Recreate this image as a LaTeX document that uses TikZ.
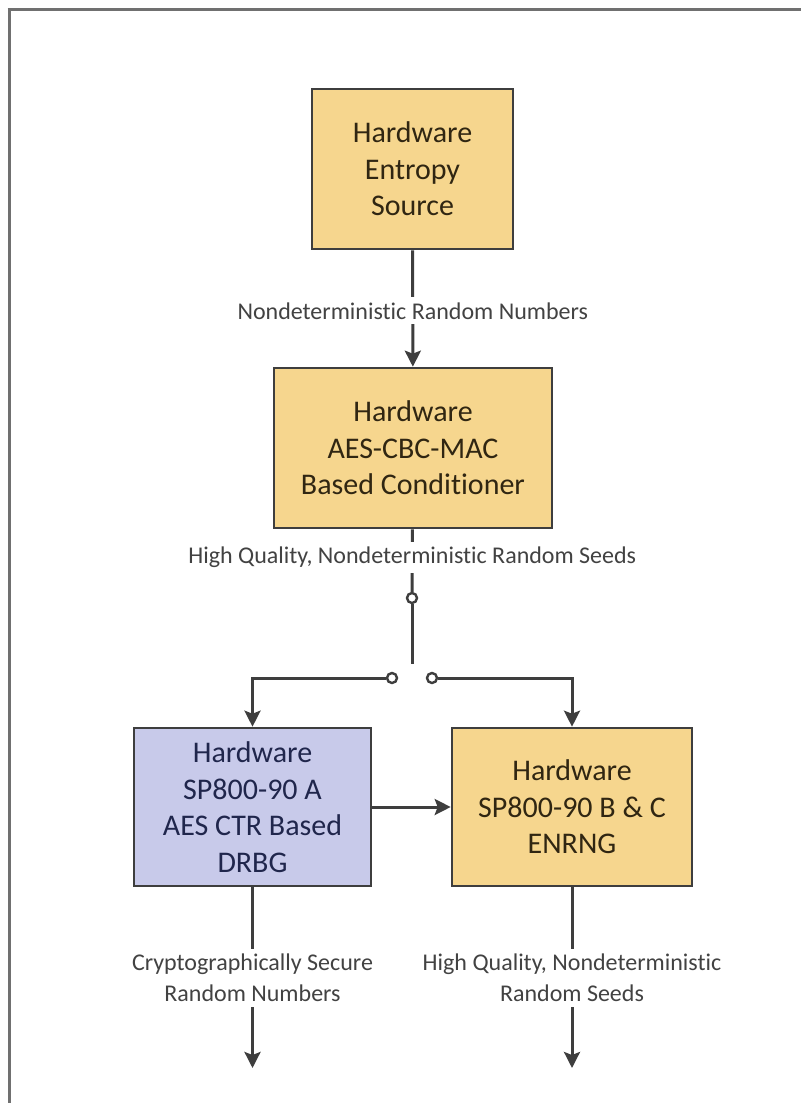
\documentclass[tikz,border=0pt]{standalone}
\usepackage{fontspec}
\setmainfont{Carlito}[Ligatures=NoCommon]
\usetikzlibrary{positioning, arrows.meta}
\definecolor{hwGold}{RGB}{246,214,142}
\definecolor{hwLav}{RGB}{200,202,234}
\definecolor{edgeGray}{RGB}{62,62,62}
\definecolor{goldText}{RGB}{48,38,18}
\definecolor{lavText}{RGB}{32,38,76}
\definecolor{lblGray}{RGB}{66,66,66}
\definecolor{frameGray}{RGB}{112,112,112}

\begin{document}
\begin{tikzpicture}[
    x=1pt, y=-1pt,
    >={Stealth[length=16pt, width=16pt, inset=3pt]},
    font=\fontsize{30}{36.5}\selectfont,
    hwbox/.style={rectangle, draw=edgeGray, fill=hwGold, text=goldText, line width=2.6pt, align=center, inner sep=0pt},
    drbgbox/.style={hwbox, fill=hwLav, text=lavText},
    lbl/.style={fill=white, text=lblGray, align=center, inner sep=5pt, font=\fontsize{24}{31}\selectfont},
    flow/.style={->, draw=edgeGray, line width=3pt},
    wire/.style={draw=edgeGray, line width=3pt},
    contact/.style={circle, draw=edgeGray, fill=white, line width=2.4pt, inner sep=0pt, minimum size=10pt}
]
    \useasboundingbox (0,0) rectangle (801,1103);
    \draw[frameGray, line width=3pt] (7.5,9) -- (801,9);
    \draw[frameGray, line width=3pt] (9,9) -- (9,1103);

    \node[hwbox, minimum width=201pt, minimum height=160pt] (entropy) at (412.5,169) {Hardware \\ Entropy \\ Source};
    \node[hwbox, minimum width=278pt, minimum height=160pt] (cond) at (413,448) {Hardware \\ AES-CBC-MAC \\ Based Conditioner};
    \node[drbgbox, minimum width=237pt, minimum height=158pt] (drbg) at (252.5,807) {Hardware \\ SP800-90 A \\ AES CTR Based \\ DRBG};
    \node[hwbox, minimum width=240pt, minimum height=158pt] (enrng) at (572,807) {Hardware \\ SP800-90 B \& C \\ ENRNG};

    % switch between the conditioner and the two generators
    \node[contact] (sw_in) at (412,598) {};
    \coordinate (blade) at (412,664);
    \node[contact] (sw_a) at (392,678) {};
    \node[contact] (sw_b) at (432,678) {};
    \coordinate (out_a) at (drbg.south |- 0,1068);
    \coordinate (out_b) at (enrng.south |- 0,1068);

    \draw[flow] (entropy) -- (cond) node[lbl, pos=0.52] {Nondeterministic Random Numbers};
    \draw[wire] (cond) -- (sw_in) node[lbl, pos=0.45] {High Quality, Nondeterministic Random Seeds};
    \draw[wire] (sw_in) -- (blade);
    \draw[flow] (sw_a) -| (drbg.north);
    \draw[flow] (sw_b) -| (enrng.north);
    \draw[flow] (drbg) -- (enrng);

    \draw[flow] (drbg) -- (out_a) node[lbl, pos=0.5] {Cryptographically Secure \\ Random Numbers};
    \draw[flow] (enrng) -- (out_b) node[lbl, pos=0.5] {High Quality, Nondeterministic \\ Random Seeds};
\end{tikzpicture}
\end{document}
